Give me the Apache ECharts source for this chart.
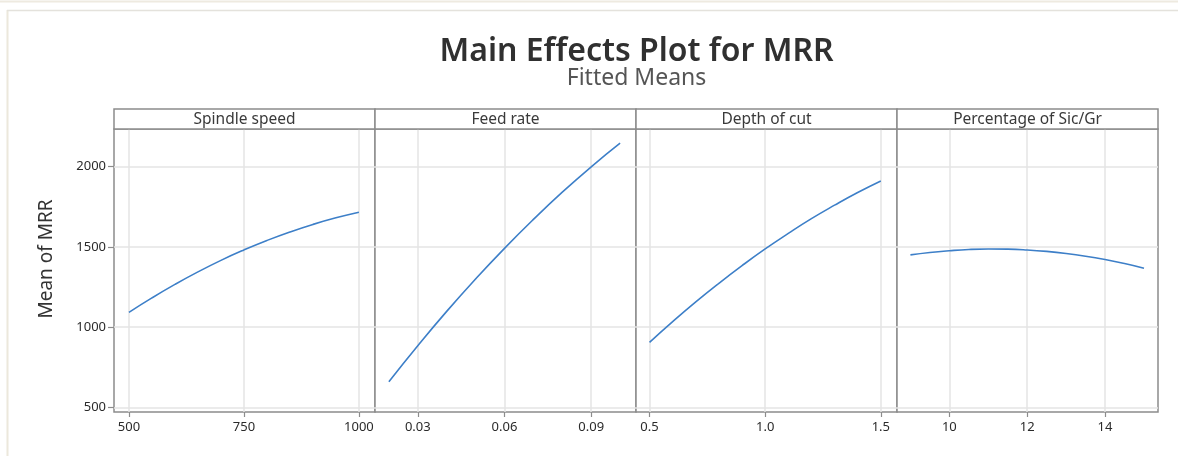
<!DOCTYPE html>
<html><head><meta charset="utf-8">
<script src="https://cdn.jsdelivr.net/npm/echarts@6/dist/echarts.min.js"></script>
<style>html,body{margin:0;padding:0;background:#fff}#c{width:1178px;height:456px}</style>
</head><body><div id="c"></div><script>
// ---- data ----
const panelTitles = ['Spindle speed', 'Feed rate', 'Depth of cut', 'Percentage of Sic/Gr'];
const spindleX = [500, 550, 600, 650, 700, 750, 800, 850, 900, 950, 1000];
const spindleY = [1092, 1182, 1266, 1344, 1416, 1481, 1540, 1593, 1640, 1681, 1716];
const feedX = [0.02, 0.03, 0.04, 0.05, 0.06, 0.07, 0.08, 0.09, 0.10];
const feedY = [660, 884, 1098, 1300, 1491, 1671, 1841, 1999, 2146];
const depthX = [0.5, 0.6, 0.7, 0.8, 0.9, 1.0, 1.1, 1.2, 1.3, 1.4, 1.5];
const depthY = [905, 1034, 1157, 1273, 1383, 1487, 1584, 1676, 1760, 1839, 1911];
const sicX = [9, 9.5, 10, 10.5, 11, 11.5, 12, 12.5, 13, 13.5, 14, 14.5, 15];
const sicY = [1450, 1465, 1476, 1484, 1487, 1486, 1481, 1472, 1459, 1442, 1421, 1396, 1367];
const xTickValues = [[500, 750, 1000], [0.03, 0.06, 0.09], [0.5, 1.0, 1.5], [10, 12, 14]];
const xTickDecimals = [0, 2, 1, 0];
const yTickValues = [500, 1000, 1500, 2000];

// ---- axis extents and layout ----
const xRanges = [[467.5, 1035], [0.0152, 0.1055], [0.4415, 1.57], [8.655, 15.36]];
const yRange = [470.7, 2234.8];
const seriesX = [spindleX, feedX, depthX, sicX];
const seriesY = [spindleY, feedY, depthY, sicY];

const L0 = 114, PW = 261, TOP = 129, PH = 283, HEAD = 20;
const BORDER = '#8c8c8c', GRIDC = '#e4e4e4', TXT = '#2a2a2a', LINEC = '#3d7fc8';
const FONT = '"Noto Sans", "Open Sans", sans-serif';

const grids = [], xAxes = [], yAxes = [], series = [], graphics = [];
for (let i = 0; i < 4; i++) {
  const left = L0 + i * PW;
  grids.push({ left: left, top: TOP, width: PW, height: PH, show: true,
    borderColor: BORDER, borderWidth: 1.5, backgroundColor: '#fff', containLabel: false });
  xAxes.push({ type: 'value', gridIndex: i, min: xRanges[i][0], max: xRanges[i][1],
    axisLine: { show: false },
    axisTick: { show: true, customValues: xTickValues[i], length: 5, lineStyle: { color: BORDER, width: 1.2 } },
    axisLabel: { show: true, customValues: xTickValues[i], margin: 9, fontSize: 13, color: TXT, fontFamily: FONT,
      formatter: (v) => Number(v).toFixed(xTickDecimals[i]) },
    splitLine: { show: true, lineStyle: { color: GRIDC, width: 1.5 } } });
  yAxes.push({ type: 'value', gridIndex: i, min: yRange[0], max: yRange[1],
    axisLine: { show: false },
    axisTick: { show: i === 0, customValues: yTickValues, length: 6, lineStyle: { color: BORDER, width: 1.2 } },
    axisLabel: { show: i === 0, customValues: yTickValues, margin: 8, fontSize: 13, color: TXT, fontFamily: FONT,
      formatter: (v) => String(Math.round(v)) },
    splitLine: { show: true, lineStyle: { color: GRIDC, width: 1.5 } } });
  series.push({ type: 'line', xAxisIndex: i, yAxisIndex: i, showSymbol: false, smooth: true,
    data: seriesX[i].map((x, k) => [x, seriesY[i][k]]),
    lineStyle: { color: LINEC, width: 1.6 }, itemStyle: { color: LINEC }, z: 3 });
  graphics.push({ type: 'rect', shape: { x: left, y: TOP - HEAD, width: PW, height: HEAD },
    style: { fill: '#fff', stroke: BORDER, lineWidth: 1.5 }, z: 10 });
  graphics.push({ type: 'text', x: left + PW / 2, y: TOP - HEAD / 2 + 1,
    style: { text: panelTitles[i], align: 'center', verticalAlign: 'middle', fontSize: 15.5, fill: '#3a3a3a', fontFamily: FONT }, z: 11 });
}
// outer frame
graphics.push({ type: 'line', shape: { x1: 0, y1: 1.5, x2: 1178, y2: 1.5 }, style: { stroke: '#eeeae0', lineWidth: 2 } });
graphics.push({ type: 'line', shape: { x1: 7.5, y1: 10, x2: 7.5, y2: 456 }, style: { stroke: '#ece8dc', lineWidth: 2 } });
graphics.push({ type: 'line', shape: { x1: 7, y1: 10.5, x2: 1178, y2: 10.5 }, style: { stroke: '#e4e2dc', lineWidth: 1.5 } });
// titles
graphics.push({ type: 'text', x: 636.5, y: 51.5,
  style: { text: 'Main Effects Plot for MRR', align: 'center', verticalAlign: 'middle', fontSize: 32, fontWeight: 600, fill: '#303030', fontFamily: FONT } });
graphics.push({ type: 'text', x: 636.5, y: 78,
  style: { text: 'Fitted Means', align: 'center', verticalAlign: 'middle', fontSize: 23, fill: '#555', fontFamily: FONT } });
graphics.push({ type: 'text', x: 46.5, y: 259, rotation: Math.PI / 2,
  style: { text: 'Mean of MRR', align: 'center', verticalAlign: 'middle', fontSize: 19, fill: '#333', fontFamily: FONT } });

const chart = echarts.init(document.getElementById('c'), null, { renderer: 'canvas' });
chart.setOption({
  animation: false,
  backgroundColor: '#fff',
  textStyle: { fontFamily: FONT },
  grid: grids, xAxis: xAxes, yAxis: yAxes, series: series, graphic: graphics
});
</script></body></html>
